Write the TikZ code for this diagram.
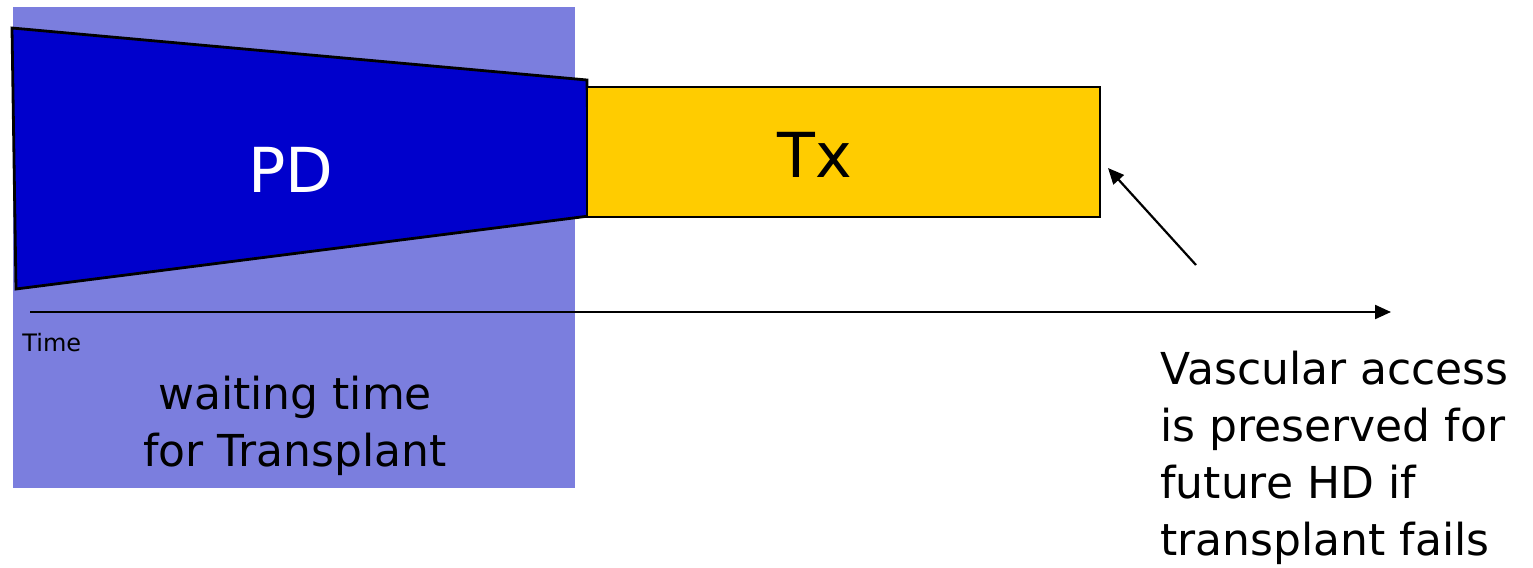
\documentclass[tikz,border=0pt]{standalone}
\usepackage{fontspec}
\setmainfont{DejaVu Sans}
\usetikzlibrary{arrows.meta}
\definecolor{waitbg}{HTML}{7B7EDE}
\definecolor{pdblue}{HTML}{0000CC}
\definecolor{txgold}{HTML}{FFCC00}
\begin{document}
\begin{tikzpicture}[x=0.5pt,y=-0.5pt,
  shapeline/.style={draw=black,line width=1.4pt,line join=miter},
  connector/.style={draw=black,line width=1.1pt,-{Triangle[length=8pt,width=7pt]}},
  bigtext/.style={font=\fontsize{31}{38}\selectfont,inner sep=0pt},
  bodytext/.style={font=\fontsize{22}{28.5}\selectfont,inner sep=0pt}]
\useasboundingbox (0,0) rectangle (1533,568);
\fill[white] (0,0) rectangle (1533,568);
\fill[waitbg] (13,7) rectangle (575,488);
\draw[shapeline,fill=pdblue] (12,28) -- (587,80) -- (589,216) -- (16,289) -- cycle;
\draw[shapeline,fill=txgold] (587,87) rectangle (1100,217);
\node[bigtext,text=white] (pd) at (291,170) {PD};
\node[bigtext] (tx) at (815,155) {Tx};
\coordinate (tstart) at (30,312);
\coordinate (tend) at (1391,312);
\draw[connector] (tstart) -- (tend);
\node[font=\fontsize{12}{14}\selectfont,inner sep=0pt,anchor=west] (time) at (22,343) {Time};
\node[bodytext,align=center] (wait) at (295,426) {waiting time\\for Transplant};
\node[bodytext,align=left,anchor=north west] (note) at (1160,351) {Vascular access\\is preserved for\\future HD if\\transplant fails};
\coordinate (noteptr) at (1196,265);
\coordinate (txend) at (1108,168);
\draw[connector] (noteptr) -- (txend);
\end{tikzpicture}
\end{document}
